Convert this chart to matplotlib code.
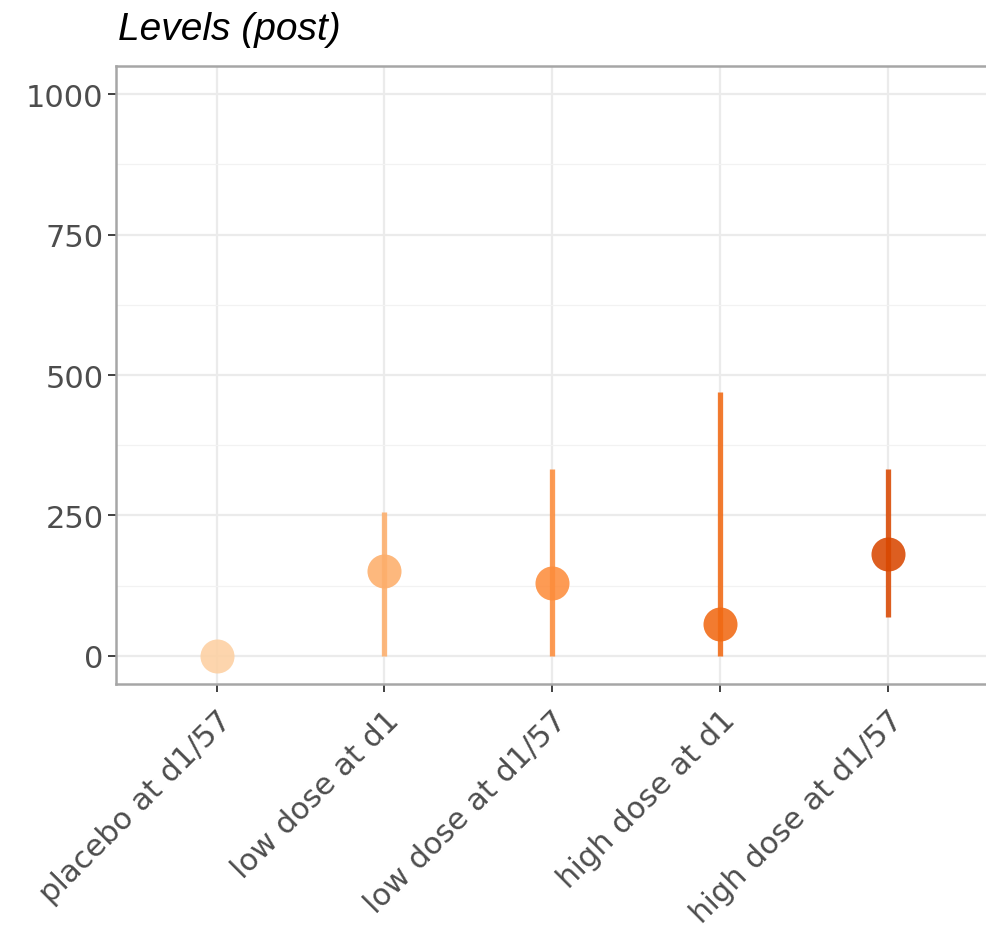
import numpy as np
import matplotlib.pyplot as plt
from matplotlib.ticker import MultipleLocator

plt.rcParams['font.family'] = ['Liberation Sans', 'DejaVu Sans']

# groups and summary values (median with interval)
groups = ["placebo at d1/57", "low dose at d1", "low dose at d1/57",
          "high dose at d1", "high dose at d1/57"]
centre = [0, 151, 130, 57, 181]
lower = [0, 0, 0, 0, 70]
upper = [0, 256, 333, 470, 333]
colours = ["#FDD0A2", "#FDAE6B", "#FD8D3C", "#F16913", "#D94801"]

fig = plt.figure(figsize=(9.87, 9.29), dpi=100)
ax = fig.add_axes([0.1175, 0.2626, 0.884, 0.6653])

x = np.arange(1, len(groups) + 1)
for xi, c, lo, hi, col in zip(x, centre, lower, upper, colours):
    ax.plot([xi, xi], [lo, hi], color=col, lw=3.8, alpha=0.88,
            solid_capstyle='butt', zorder=3)
    ax.plot(xi, c, 'o', ms=24.5, color=col, mec='none', alpha=0.88, zorder=4)

ax.set_xlim(0.4, 5.6)
ax.set_ylim(-50, 1050)
ax.yaxis.set_major_locator(MultipleLocator(250))
ax.yaxis.set_minor_locator(MultipleLocator(125))
ax.set_xticks(x)
ax.set_xticklabels(groups, rotation=45, ha='right', va='top',
                   rotation_mode='anchor')

ax.grid(which='major', color='#EBEBEB', lw=1.6, zorder=0)
ax.grid(which='minor', axis='y', color='#F2F2F2', lw=0.9, zorder=0)
ax.set_axisbelow(True)
ax.tick_params(which='major', length=6, width=1.3, color='#333333',
               labelsize=22, labelcolor='#4D4D4D', pad=3)
ax.tick_params(axis='x', pad=9)
ax.tick_params(which='minor', length=0)
for lab in ax.get_xticklabels() + ax.get_yticklabels():
    lab.set_family('DejaVu Sans')
for s in ax.spines.values():
    s.set_color('#A6A6A6')
    s.set_linewidth(1.8)

fig.text(0.1196, 0.957, "Levels (post)", fontsize=28, style='italic',
         ha='left', va='baseline', color='black')

fig.savefig("out.png", dpi=100)
